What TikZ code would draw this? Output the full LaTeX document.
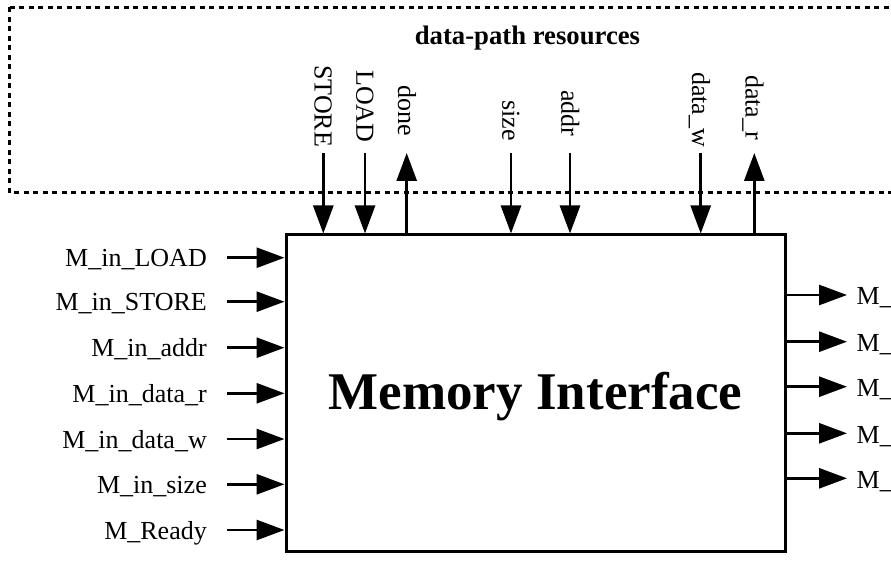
\documentclass[tikz,border=0pt]{standalone}
\usepackage{fontspec}
\setmainfont{Liberation Serif}
\usetikzlibrary{arrows.meta,calc}
\begin{document}
\begin{tikzpicture}[x=1pt,y=-1pt,
  sig/.style={line width=2.8pt,-{Triangle[length=28pt,width=20pt]}},
  lab/.style={font=\fontsize{26}{30}\selectfont,inner sep=0pt},
  vlab/.style={lab,rotate=-90,anchor=base west},
  frame/.style={line width=3pt,dash pattern=on 5pt off 4.5pt},
  unit/.style={draw,line width=3pt,minimum width=499pt,minimum height=316pt,inner sep=0pt}]
\useasboundingbox (0,0) rectangle (891,585);
\clip (0,0) rectangle (891,585);

% data-path resources area
\draw[frame] (9.7,7.3) -- (9.7,193) -- (910,193);
\draw[frame] (9.7,7.3) -- (910,7.3);
\node[lab,font=\fontsize{26.7}{30}\selectfont\bfseries,anchor=base] (dpr) at (527.5,45) {data-path resources};

% the memory interface block
\node[unit] (mi) at (535.5,393) {};
\node[inner sep=0pt,anchor=base,font=\fontsize{53}{60}\selectfont\bfseries] (mit) at (535.5,409) {Memory Interface};

% signals to and from the data path
\foreach \nm/\x/\y/\txt in {st/323.3/65/STORE, ld/365/70/LOAD, dn/406.7/85/done,
    sz/511/100/size, ad/570/90/addr, dw/700.7/72/data\_w, dr/754.3/75/data\_r}{
  \node[vlab] (t-\nm) at (\x-8.7,\y) {\txt};
  \coordinate (c-\nm) at (\x,153);
}
\foreach \nm in {st,ld,sz,ad,dw}{
  \draw[sig] (c-\nm) -- (c-\nm |- mi.north);
}
\foreach \nm in {dn,dr}{
  \draw[sig] (c-\nm |- mi.north) -- (c-\nm);
}

% inputs on the left
\foreach \i/\y/\txt in {1/257.7/M\_in\_LOAD, 2/301.7/M\_in\_STORE, 3/347.7/M\_in\_addr,
    4/393.3/M\_in\_data\_r, 5/439/M\_in\_data\_w, 6/484.3/M\_in\_size, 7/530/M\_Ready}{
  \node[lab,anchor=base east] (l\i) at (207,\y+9) {\txt};
  \coordinate (a\i) at (227,\y);
  \draw[sig] (a\i) -- (a\i -| mi.west);
}

% outputs on the right
\foreach \i/\y in {1/295,2/341.7,3/386.7,4/433.3,5/478.3}{
  \coordinate (b\i) at (847,\y);
  \draw[sig] (b\i -| mi.east) -- (b\i);
  \node[lab,anchor=base west] (r\i) at (856.5,\y+10) {M\_};
}
\end{tikzpicture}
\end{document}
